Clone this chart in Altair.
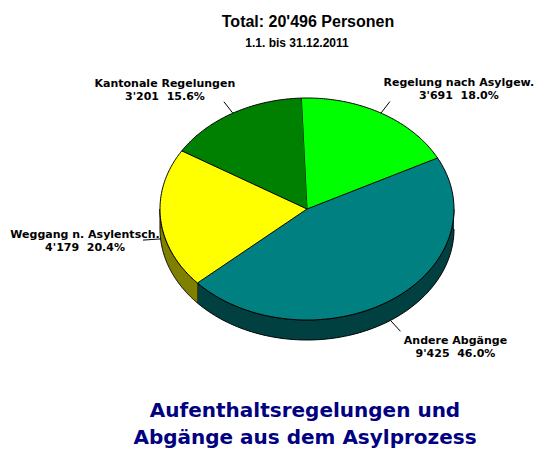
import math
import altair as alt
import pandas as pd

# ---------------- data ----------------
categories = ["Regelung nach Asylgew.", "Andere Abgänge", "Weggang n. Asylentsch.", "Kantonale Regelungen"]
counts = [3691, 9425, 4179, 3201]
top_colors = ["#00FF00", "#008080", "#FFFF00", "#008000"]
side_colors = ["#008000", "#004040", "#808000", "#004000"]
title_text = ["Total: 20'496 Personen"]
subtitle_text = ["1.1. bis 31.12.2011"]
footer_lines = ["Aufenthaltsregelungen und", "Abgänge aus dem Asylprozess"]

# ---------------- layout ----------------
W, H = 529, 442
CX, CY = 299, 201          # ellipse centre (px)
RX, RY = 147, 111          # ellipse radii (px)
DEPTH = 20 / RY            # side depth in y units
START = math.radians(-2.2)
N = 90
LEAD = 1.12
# label offsets (px) from the outer end of each leader line: (dx, dy of first baseline)
label_offsets = {
    "Regelung nach Asylgew.": (69, -16),
    "Andere Abgänge": (55, 13),
    "Weggang n. Asylentsch.": (-58, -2),
    "Kantonale Regelungen": (-59, -15),
}

df = pd.DataFrame({"category": categories, "count": counts, "idx": list(range(len(categories)))})

xscale = alt.Scale(domain=[-CX / RX, (W - CX) / RX], nice=False, zero=False)
yscale = alt.Scale(domain=[-(H - CY) / RY, CY / RY], nice=False, zero=False)


def X(f):
    return alt.X(f, type="quantitative", scale=xscale, axis=None)


def Y(f):
    return alt.Y(f, type="quantitative", scale=yscale, axis=None)


base = (
    alt.Chart(df)
    .transform_joinaggregate(total="sum(count)")
    .transform_window(cum="sum(count)", sort=[alt.SortField("idx")], frame=[None, 0])
    .transform_calculate(
        a0=f"{START} + 2*PI*(datum.cum - datum.count)/datum.total",
        a1=f"{START} + 2*PI*datum.cum/datum.total",
    )
)

# side wall (visible lower half)
side = (
    base.transform_calculate(s0="max(datum.a0, PI/2)", s1="min(datum.a1, 3*PI/2)")
    .transform_filter("datum.s1 > datum.s0")
    .transform_calculate(step=f"sequence(0, {2 * N + 2})")
    .transform_flatten(["step"])
    .transform_calculate(
        t=f"datum.step <= {N} ? datum.step/{N} : ({2 * N + 1} - datum.step)/{N}",
        ang="datum.s0 + (datum.s1 - datum.s0)*datum.t",
        px="sin(datum.ang)",
        py=f"cos(datum.ang) - (datum.step > {N} ? {DEPTH} : 0)",
    )
    .mark_line(filled=True, stroke="black", strokeWidth=1, strokeJoin="round")
    .encode(
        x=X("px"),
        y=Y("py"),
        color=alt.Color("category:N", scale=alt.Scale(domain=categories, range=side_colors), legend=None),
        order=alt.Order("step:Q"),
    )
)

# top face
top = (
    base.transform_calculate(step=f"sequence(0, {N + 2})")
    .transform_flatten(["step"])
    .transform_calculate(
        t=f"(datum.step - 1)/{N}",
        ang="datum.a0 + (datum.a1 - datum.a0)*datum.t",
        px="datum.step == 0 ? 0 : sin(datum.ang)",
        py="datum.step == 0 ? 0 : cos(datum.ang)",
    )
    .mark_line(filled=True, stroke="black", strokeWidth=1, strokeJoin="round")
    .encode(
        x=X("px"),
        y=Y("py"),
        color=alt.Color("category:N", scale=alt.Scale(domain=categories, range=top_colors), legend=None),
        order=alt.Order("step:Q"),
    )
)

geo = base.transform_calculate(
    mid="(datum.a0 + datum.a1)/2",
).transform_calculate(
    drop=f"cos(datum.mid) < 0 ? {DEPTH} : 0",
).transform_calculate(
    lx1="sin(datum.mid)",
    ly1="cos(datum.mid) - datum.drop",
    lx2=f"{LEAD}*sin(datum.mid)",
    ly2=f"{LEAD}*cos(datum.mid) - datum.drop",
    label="[datum.category, replace(format(datum.count, ','), ',', \"'\") + '\u00a0\u00a0' + format(datum.count/datum.total, '.1%')]",
)

leaders = geo.mark_rule(color="black", strokeWidth=1).encode(
    x=X("lx1"), y=Y("ly1"), x2="lx2:Q", y2="ly2:Q"
)

label_layers = []
for cat in categories:
    dx, dy = label_offsets[cat]
    label_layers.append(
        geo.transform_filter(alt.datum.category == cat)
        .mark_text(
            font="DejaVu Sans", fontWeight="bold", fontSize=11, lineHeight=13,
            align="center", baseline="alphabetic", dx=dx, dy=dy, color="black",
        )
        .encode(x=X("lx2"), y=Y("ly2"), text="label:N")
    )

title = alt.Chart(pd.DataFrame({"t": title_text})).mark_text(
    font="Liberation Sans", fontWeight="bold", fontSize=16, align="center", baseline="alphabetic", color="black"
).encode(text="t:N", x=alt.value(300), y=alt.value(19))

subtitle = alt.Chart(pd.DataFrame({"t": subtitle_text})).mark_text(
    font="Liberation Sans", fontWeight="bold", fontSize=12, align="center", baseline="alphabetic", color="black"
).encode(text="t:N", x=alt.value(289), y=alt.value(39))

footer = alt.Chart(pd.DataFrame({"t": [footer_lines]})).mark_text(
    font="DejaVu Sans", fontWeight="bold", fontSize=20, lineHeight=27, align="center",
    baseline="alphabetic", color="#000080"
).encode(text="t:N", x=alt.value(297), y=alt.value(409))

chart = (
    alt.layer(side, top, leaders, *label_layers, title, subtitle, footer)
    .resolve_scale(color="independent")
    .properties(width=W, height=H, padding=0, autosize=alt.AutoSizeParams(type="none"))
    .configure_view(stroke=None)
)

chart.save("out.html", embed_options={"renderer": "svg", "actions": False})
